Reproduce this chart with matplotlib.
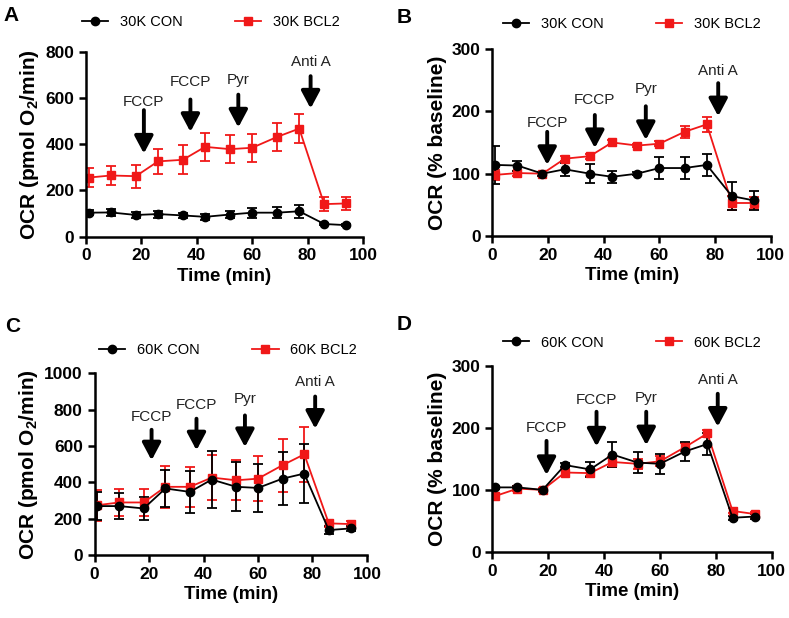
import matplotlib.pyplot as plt

plt.rcParams['font.family'] = 'Liberation Sans'
plt.rcParams['mathtext.fontset'] = 'custom'
plt.rcParams['mathtext.rm'] = 'Liberation Sans'
plt.rcParams['mathtext.bf'] = 'Liberation Sans:bold'

# Tempo das medidas (min)
time = [1, 9, 18, 26, 35, 43, 52, 60, 69, 77, 86, 94]

# Painel A - 30K, OCR absoluto
a_con = [104, 105, 94, 98, 92, 86, 96, 104, 104, 110, 55, 50]
a_con_err = [12, 14, 15, 15, 12, 14, 14, 22, 24, 27, 5, 5]
a_bcl2 = [256, 265, 262, 326, 333, 389, 379, 385, 432, 468, 141, 144]
a_bcl2_err = [40, 43, 50, 55, 63, 62, 60, 60, 60, 62, 30, 28]

# Painel B - 30K, % baseline
b_con = [114, 113, 100, 107, 100, 95, 100, 109, 109, 114, 64, 57]
b_con_err = [30, 8, 3, 10, 15, 10, 2, 18, 18, 17, 23, 16]
b_bcl2 = [98, 101, 100, 124, 128, 150, 145, 148, 167, 179, 53, 53]
b_bcl2_err = [8, 4, 3, 4, 4, 4, 3, 4, 10, 12, 12, 10]

# Painel C - 60K, OCR absoluto
c_con = [269, 269, 256, 366, 347, 415, 375, 369, 420, 448, 137, 146]
c_con_err = [75, 70, 65, 100, 115, 155, 135, 130, 145, 160, 20, 15]
c_bcl2 = [274, 289, 289, 375, 375, 426, 411, 420, 494, 554, 174, 170]
c_bcl2_err = [85, 75, 75, 115, 110, 125, 110, 125, 145, 150, 20, 15]

# Painel D - 60K, % baseline
d_con = [104, 104, 100, 140, 133, 157, 144, 142, 162, 174, 55, 57]
d_con_err = [2, 2, 2, 3, 12, 20, 17, 16, 15, 18, 3, 4]
d_bcl2 = [90, 102, 100, 128, 127, 145, 142, 146, 169, 191, 66, 61]
d_bcl2_err = [5, 4, 3, 5, 5, 8, 8, 8, 7, 6, 4, 4]

# Injecoes
inj_labels = ['FCCP', 'FCCP', 'Pyr', 'Anti A']

# Setas por painel: (x, topo, ponta, y do texto)
a_arrows = [(20.9, 548, 360, 584), (37.7, 594, 454, 670), (55, 615, 473, 677), (81.1, 695, 555, 757)]
b_arrows = [(19.7, 167, 114, 181), (36.8, 194, 141, 218), (55.1, 208, 154, 235), (81.1, 245, 192, 264)]
c_arrows = [(20.9, 689, 521, 762), (37.4, 750, 576, 826), (55.2, 768, 594, 859), (81, 872, 695, 951)]
d_arrows = [(19.4, 179, 124, 199), (37.3, 226, 170, 245), (55.1, 226, 172, 248), (80.7, 255, 202, 277)]

panels = [
    ('A', [0.109, 0.617, 0.351, 0.299], a_con, a_con_err, a_bcl2, a_bcl2_err,
     '30K', 800, 200, r'OCR (pmol O$_\mathbf{2}$/min)', a_arrows, (0.45, 1.16)),
    ('B', [0.624, 0.618, 0.353, 0.303], b_con, b_con_err, b_bcl2, b_bcl2_err,
     '30K', 300, 100, 'OCR (% baseline)', b_arrows, (0.5, 1.13)),
    ('C', [0.120, 0.102, 0.345, 0.294], c_con, c_con_err, c_bcl2, c_bcl2_err,
     '60K', 1000, 200, r'OCR (pmol O$_\mathbf{2}$/min)', c_arrows, (0.49, 1.13)),
    ('D', [0.624, 0.107, 0.354, 0.301], d_con, d_con_err, d_bcl2, d_bcl2_err,
     '60K', 300, 100, 'OCR (% baseline)', d_arrows, (0.5, 1.125)),
]

letter_pos = {'A': (0.004, 0.99), 'B': (0.503, 0.987), 'C': (0.006, 0.487), 'D': (0.503, 0.49)}

red = '#f01818'

fig = plt.figure(figsize=(7.89, 6.18), dpi=100)

for letter, rect, con, con_err, bcl2, bcl2_err, grp, ymax, ystep, ylab, arrows, legpos in panels:
    ax = fig.add_axes(rect)
    h2 = ax.errorbar(time, bcl2, yerr=bcl2_err, color=red, marker='s', markersize=6,
                     lw=1.3, elinewidth=1.3, capsize=3.5, capthick=1.3)
    h1 = ax.errorbar(time, con, yerr=con_err, color='black', marker='o', markersize=6,
                     lw=1.3, elinewidth=1.3, capsize=3.5, capthick=1.3)

    for (x, top, tip, ytxt), lab in zip(arrows, inj_labels):
        ax.annotate('', xy=(x, tip), xytext=(x, top),
                    arrowprops=dict(arrowstyle='-|>,head_length=0.75,head_width=0.4',
                                    lw=2.8, color='black', mutation_scale=14,
                                    shrinkA=0, shrinkB=0))
        ax.text(x, ytxt, lab, ha='center', va='center', fontsize=11, color='#222222')

    ax.set_xlim(0, 100)
    ax.set_ylim(0, ymax)
    ax.set_xticks(range(0, 101, 20))
    ax.set_yticks(range(0, ymax + 1, ystep))
    for s in ['top', 'right']:
        ax.spines[s].set_visible(False)
    for s in ['left', 'bottom']:
        ax.spines[s].set_linewidth(1.8)
    ax.tick_params(width=1.8, length=5, labelsize=12.5)
    for t in ax.get_xticklabels() + ax.get_yticklabels():
        t.set_fontweight('bold')
    ax.set_xlabel('Time (min)', fontsize=13.5, fontweight='bold', labelpad=3)
    ax.set_ylabel(ylab, fontsize=15, fontweight='bold', labelpad=3)

    ax.legend([h1[0], h2[0]], [grp + ' CON', grp + ' BCL2'], ncol=2, frameon=False,
              loc='center', bbox_to_anchor=legpos, fontsize=10.5,
              handlelength=1.8, handletextpad=0.8, columnspacing=3.6)

    fx, fy = letter_pos[letter]
    fig.text(fx, fy, letter, fontsize=15, fontweight='bold', va='top', ha='left')

plt.savefig('out.png', dpi=100)
